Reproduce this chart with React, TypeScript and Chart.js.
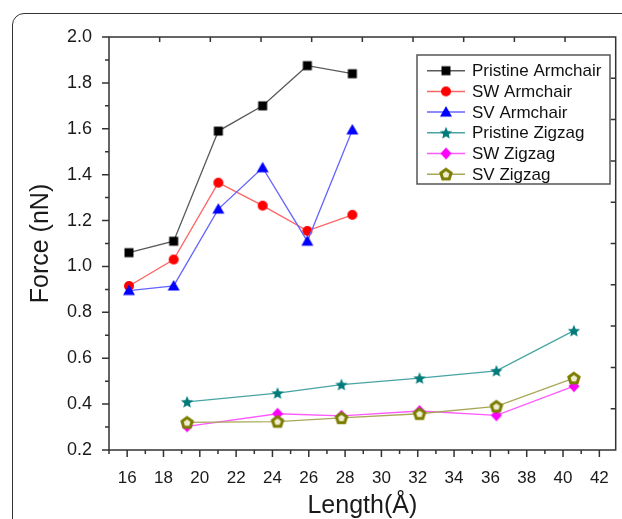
import React, { useEffect, useRef } from "react";
import { Chart, registerables } from "chart.js";

Chart.register(...registerables);

// ---------- data ----------
const armchairLength = [16.1, 18.56, 21.02, 23.46, 25.92, 28.4];
const zigzagLength = [19.3, 24.28, 27.8, 32.1, 36.33, 40.6];

const pristineArmchair = [1.06, 1.11, 1.59, 1.7, 1.875, 1.84];
const swArmchair = [0.915, 1.03, 1.365, 1.265, 1.155, 1.225];
const svArmchair = [0.895, 0.915, 1.25, 1.43, 1.11, 1.595];
const pristineZigzag = [0.41, 0.448, 0.485, 0.513, 0.545, 0.72];
const swZigzag = [0.303, 0.358, 0.349, 0.37, 0.351, 0.478];
const svZigzag = [0.32, 0.324, 0.34, 0.358, 0.39, 0.513];

const seriesLabels = [
  "Pristine Armchair",
  "SW Armchair",
  "SV Armchair",
  "Pristine Zigzag",
  "SW Zigzag",
  "SV Zigzag",
];

const xTickValues = [16, 18, 20, 22, 24, 26, 28, 30, 32, 34, 36, 38, 40, 42];
const xMinorValues = [15, 17, 19, 21, 23, 25, 27, 29, 31, 33, 35, 37, 39, 41];
const yTickValues = [0.2, 0.4, 0.6, 0.8, 1.0, 1.2, 1.4, 1.6, 1.8, 2.0];
const yMinorValues = [0.3, 0.5, 0.7, 0.9, 1.1, 1.3, 1.5, 1.7, 1.9];

const xTitle = "Length(Å)";
const yTitle = "Force (nN)";

// ---------- styles ----------
const FONT = "'Liberation Sans', Arial, Helvetica, sans-serif";

type Shape = "square" | "circle" | "triangle" | "star" | "diamond" | "pentagon";

const styles: { shape: Shape; marker: string; line: string; inner?: string }[] = [
  { shape: "square", marker: "#000000", line: "#5a5a5a" },
  { shape: "circle", marker: "#ff0000", line: "#ff6464" },
  { shape: "triangle", marker: "#0000ff", line: "#6464ff" },
  { shape: "star", marker: "#007a7a", line: "#48a4a4" },
  { shape: "diamond", marker: "#ff00ff", line: "#ff5aff" },
  { shape: "pentagon", marker: "#7c7c00", line: "#a8a858", inner: "#eeeed0" },
];

function makeMarker(shape: Shape, color: string, inner?: string): HTMLCanvasElement {
  const size = 16;
  const c = document.createElement("canvas");
  c.width = size;
  c.height = size;
  const ctx = c.getContext("2d")!;
  const cx = size / 2;
  const cy = size / 2;
  ctx.fillStyle = color;
  ctx.strokeStyle = color;
  ctx.beginPath();
  if (shape === "square") {
    ctx.rect(cx - 4.5, cy - 4.5, 9, 9);
    ctx.fill();
  } else if (shape === "circle") {
    ctx.arc(cx, cy, 5, 0, Math.PI * 2);
    ctx.fill();
  } else if (shape === "triangle") {
    ctx.moveTo(cx, cy - 6);
    ctx.lineTo(cx + 6, cy + 4.5);
    ctx.lineTo(cx - 6, cy + 4.5);
    ctx.closePath();
    ctx.fill();
  } else if (shape === "diamond") {
    ctx.moveTo(cx, cy - 6);
    ctx.lineTo(cx + 5.5, cy);
    ctx.lineTo(cx, cy + 6);
    ctx.lineTo(cx - 5.5, cy);
    ctx.closePath();
    ctx.fill();
  } else if (shape === "star") {
    const ro = 6.4;
    const ri = 2.9;
    for (let k = 0; k < 10; k++) {
      const r = k % 2 === 0 ? ro : ri;
      const a = -Math.PI / 2 + (k * Math.PI) / 5;
      const px = cx + r * Math.cos(a);
      const py = cy + 0.5 + r * Math.sin(a);
      if (k === 0) ctx.moveTo(px, py);
      else ctx.lineTo(px, py);
    }
    ctx.closePath();
    ctx.fill();
  } else if (shape === "pentagon") {
    const r = 5.4;
    for (let k = 0; k < 5; k++) {
      const a = -Math.PI / 2 + (k * 2 * Math.PI) / 5;
      const px = cx + r * Math.cos(a);
      const py = cy + 0.5 + r * Math.sin(a);
      if (k === 0) ctx.moveTo(px, py);
      else ctx.lineTo(px, py);
    }
    ctx.closePath();
    ctx.fillStyle = inner || "#fff";
    ctx.fill();
    ctx.lineWidth = 3;
    ctx.stroke();
  }
  return c;
}

const framePlugin = {
  id: "frameTicks",
  beforeDatasetsDraw(chart: any) {
    const { ctx, chartArea } = chart;
    const { left, right, top, bottom } = chartArea;
    const xs = chart.scales.x;
    const ys = chart.scales.y;
    ctx.save();
    ctx.strokeStyle = "#333";
    ctx.lineWidth = 1.5;
    ctx.strokeRect(left, top, right - left, bottom - top);
    ctx.beginPath();
    xTickValues.forEach((v) => {
      const px = xs.getPixelForValue(v);
      ctx.moveTo(px, bottom);
      ctx.lineTo(px, bottom + 7);
    });
    xMinorValues.forEach((v) => {
      const px = xs.getPixelForValue(v);
      ctx.moveTo(px, bottom);
      ctx.lineTo(px, bottom + 4);
    });
    yTickValues.forEach((v) => {
      const py = ys.getPixelForValue(v);
      ctx.moveTo(left, py);
      ctx.lineTo(left - 7, py);
    });
    yMinorValues.forEach((v) => {
      const py = ys.getPixelForValue(v);
      ctx.moveTo(left, py);
      ctx.lineTo(left - 4, py);
    });
    for (let k = 1; k < 10; k++) {
      const px = left + ((right - left) * k) / 10;
      ctx.moveTo(px, top);
      ctx.lineTo(px, top + 5);
      const py = top + ((bottom - top) * k) / 10;
      ctx.moveTo(right, py);
      ctx.lineTo(right - 5, py);
    }
    ctx.stroke();
    ctx.restore();
  },
};

const legendPlugin = {
  id: "insideLegend",
  afterDraw(chart: any) {
    const { ctx } = chart;
    const bx = 417;
    const by = 55;
    const bw = 193;
    const bh = 129;
    ctx.save();
    ctx.fillStyle = "#ffffff";
    ctx.fillRect(bx, by, bw, bh);
    ctx.strokeStyle = "#555";
    ctx.lineWidth = 1.5;
    ctx.strokeRect(bx, by, bw, bh);
    chart.data.datasets.forEach((ds: any, i: number) => {
      const y = by + 15.7 + i * 20.7;
      ctx.strokeStyle = ds.borderColor;
      ctx.lineWidth = 1.5;
      ctx.beginPath();
      ctx.moveTo(bx + 10, y);
      ctx.lineTo(bx + 48, y);
      ctx.stroke();
      const img = ds.pointStyle as HTMLCanvasElement;
      ctx.drawImage(img, bx + 29 - img.width / 2, y - img.height / 2);
      ctx.fillStyle = "#111";
      ctx.font = `17px ${FONT}`;
      ctx.textBaseline = "middle";
      ctx.textAlign = "left";
      ctx.fillText(ds.label, bx + 55, y + 1);
    });
    ctx.restore();
  },
};

export default function App() {
  const canvasRef = useRef<HTMLCanvasElement | null>(null);

  useEffect(() => {
    const canvas = canvasRef.current;
    if (!canvas) return;
    const xsList = [armchairLength, armchairLength, armchairLength, zigzagLength, zigzagLength, zigzagLength];
    const ysList = [pristineArmchair, swArmchair, svArmchair, pristineZigzag, swZigzag, svZigzag];
    const datasets = seriesLabels.map((label, i) => ({
      label,
      data: xsList[i].map((x, j) => ({ x, y: ysList[i][j] })),
      borderColor: styles[i].line,
      backgroundColor: styles[i].marker,
      borderWidth: 1.3,
      pointStyle: makeMarker(styles[i].shape, styles[i].marker, styles[i].inner),
      pointRadius: 5,
      pointHoverRadius: 5,
      showLine: true,
      tension: 0,
      order: 10 - i,
      clip: false as any,
    }));

    const chart = new Chart(canvas, {
      type: "line",
      data: { datasets },
      options: {
        animation: false,
        responsive: false,
        maintainAspectRatio: false,
        events: [],
        layout: { padding: { left: 0, top: 37, right: 3, bottom: 0 } },
        plugins: { legend: { display: false }, tooltip: { enabled: false } },
        scales: {
          x: {
            type: "linear",
            min: 15,
            max: 42.9,
            afterFit: (s: any) => {
              s.height = 69;
              s.paddingLeft = 0;
              s.paddingRight = 0;
            },
            afterBuildTicks: (s: any) => {
              s.ticks = xTickValues.map((v) => ({ value: v }));
            },
            grid: { display: false, drawTicks: false },
            border: { display: false },
            ticks: {
              padding: 18,
              autoSkip: false,
              maxRotation: 0,
              color: "#1a1a1a",
              font: { family: FONT, size: 17 },
              callback: (v: any) => String(v),
            },
            title: {
              display: true,
              text: xTitle,
              color: "#1a1a1a",
              font: { family: FONT, size: 25 },
              padding: { top: 0, bottom: -2 },
            },
          },
          y: {
            type: "linear",
            min: 0.2,
            max: 2.0,
            afterFit: (s: any) => {
              s.width = 109;
              s.paddingTop = 0;
              s.paddingBottom = 0;
            },
            afterBuildTicks: (s: any) => {
              s.ticks = yTickValues.map((v) => ({ value: v }));
            },
            grid: { display: false, drawTicks: false },
            border: { display: false },
            ticks: {
              padding: 17,
              autoSkip: false,
              color: "#1a1a1a",
              font: { family: FONT, size: 18 },
              callback: (v: any) => Number(v).toFixed(1),
            },
            title: {
              display: true,
              text: yTitle,
              color: "#1a1a1a",
              font: { family: FONT, size: 25 },
              padding: { top: 26, bottom: 0 },
            },
          },
        },
      } as any,
      plugins: [framePlugin, legendPlugin],
    });
    return () => chart.destroy();
  }, []);

  return (
    <div
      style={{
        position: "fixed",
        left: 0,
        top: 0,
        width: 622,
        height: 519,
        overflow: "hidden",
        background: "#ffffff",
      }}
    >
      <div
        style={{
          position: "absolute",
          left: 12,
          top: 13,
          width: 660,
          height: 560,
          border: "1.5px solid #333",
          borderRadius: 12,
          boxSizing: "border-box",
        }}
      />
      <canvas
        ref={canvasRef}
        width={622}
        height={519}
        style={{ position: "absolute", left: 0, top: 0, width: 622, height: 519, display: "block" }}
      />
    </div>
  );
}
